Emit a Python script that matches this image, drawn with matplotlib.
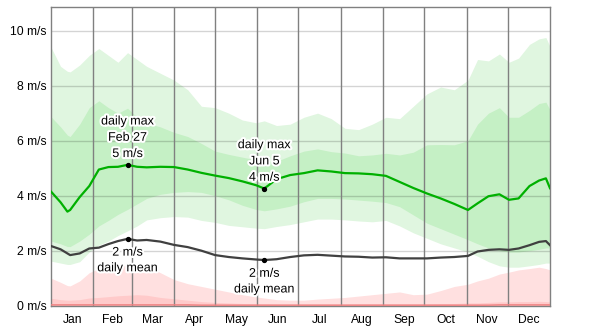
import matplotlib
matplotlib.use("Agg")
import matplotlib.pyplot as plt
import matplotlib.patheffects as pe
import numpy as np

plt.rcParams['font.family'] = ['Liberation Sans', 'DejaVu Sans']

# day of year (0 = Jan 1)
days = [0, 7, 12, 14, 21, 28, 35, 42, 49, 56, 63, 70, 80, 90, 100, 110, 120,
        130, 140, 150, 156, 165, 175, 185, 195, 205, 215, 225, 235, 245, 255,
        265, 275, 285, 295, 305, 312, 320, 328, 335, 342, 350, 357, 362, 365]

# daily max wind speed, percentiles (m/s)
max_p90 = [9.4, 8.7, 8.52, 8.5, 8.75, 9.1, 9.35, 9.1, 8.85, 9.2, 8.95, 8.7, 8.45,
           8.2, 7.85, 7.25, 7.2, 7.0, 6.75, 6.65, 6.72, 6.55, 6.6, 6.85, 7.0,
           6.8, 6.45, 6.4, 6.6, 6.85, 6.8, 7.25, 7.7, 7.95, 7.85, 8.2, 8.95,
           8.9, 9.15, 8.85, 9.0, 9.5, 9.7, 9.75, 9.42]
max_p75 = [6.87, 6.5, 6.2, 6.15, 6.6, 7.2, 7.45, 7.2, 7.0, 7.18, 6.85, 6.65,
           6.5, 6.3, 6.15, 5.9, 5.62, 5.5, 5.4, 5.3, 5.27, 5.25, 5.45, 5.62,
           5.7, 5.6, 5.55, 5.45, 5.48, 5.54, 5.48, 5.58, 5.85, 5.86, 5.85, 6.0,
           6.6, 7.0, 7.2, 6.85, 6.85, 7.1, 7.35, 7.4, 7.12]
max_median = [4.15, 3.76, 3.42, 3.48, 3.95, 4.35, 4.95, 5.04, 5.05, 5.12, 5.05,
              5.03, 5.05, 5.04, 4.95, 4.83, 4.73, 4.64, 4.52, 4.38, 4.26, 4.6,
              4.75, 4.82, 4.92, 4.88, 4.82, 4.81, 4.78, 4.72, 4.5, 4.28, 4.08,
              3.9, 3.7, 3.48, 3.72, 3.98, 4.05, 3.85, 3.9, 4.35, 4.55, 4.63, 4.27]
max_p25 = [2.35, 2.25, 2.15, 2.15, 2.35, 2.6, 2.9, 3.1, 3.32, 3.5, 3.7, 3.9,
           4.05, 4.12, 4.15, 4.12, 4.0, 3.85, 3.65, 3.5, 3.45, 3.52, 3.62, 3.78,
           3.9, 3.9, 3.88, 3.84, 3.8, 3.75, 3.6, 3.3, 3.0, 2.8, 2.6, 2.4, 2.25,
           2.1, 2.0, 1.95, 1.95, 2.0, 2.05, 2.1, 2.1]
max_p10 = [1.62, 1.55, 1.5, 1.5, 1.6, 1.95, 2.2, 2.35, 2.55, 2.72, 2.9, 3.12,
           3.2, 3.24, 3.22, 3.1, 3.03, 2.92, 2.87, 2.82, 2.8, 2.88, 2.95, 3.05,
           3.15, 3.15, 3.12, 3.08, 3.05, 3.1, 2.9, 2.65, 2.45, 2.25, 2.1, 1.95,
           1.8, 1.6, 1.45, 1.4, 1.4, 1.45, 1.5, 1.55, 1.55]

# daily mean wind speed (m/s)
mean_speed = [2.17, 2.05, 1.9, 1.84, 1.9, 2.08, 2.11, 2.24, 2.35, 2.43, 2.37,
              2.39, 2.33, 2.21, 2.13, 2.0, 1.84, 1.77, 1.72, 1.68, 1.66, 1.69,
              1.77, 1.83, 1.85, 1.82, 1.79, 1.78, 1.75, 1.76, 1.72, 1.72, 1.72,
              1.75, 1.77, 1.81, 1.97, 2.03, 2.05, 2.03, 2.08, 2.2, 2.32, 2.35, 2.2]

# daily min wind speed, percentiles (m/s)
min_p90 = [1.0, 0.85, 0.73, 0.72, 0.9, 1.2, 1.35, 1.45, 1.5, 1.45, 1.5, 1.45,
           1.2, 0.95, 0.8, 0.7, 0.6, 0.5, 0.4, 0.32, 0.28, 0.22, 0.2, 0.2, 0.24,
           0.27, 0.3, 0.35, 0.4, 0.45, 0.5, 0.4, 0.42, 0.55, 0.7, 0.78, 0.9,
           1.0, 1.15, 1.22, 1.3, 1.35, 1.4, 1.35, 1.3]
min_p75 = [0.27, 0.22, 0.2, 0.2, 0.22, 0.28, 0.3, 0.33, 0.36, 0.38, 0.4, 0.38,
           0.3, 0.25, 0.2, 0.15, 0.12, 0.1, 0.08, 0.07, 0.07, 0.06, 0.06, 0.06,
           0.06, 0.06, 0.06, 0.07, 0.07, 0.07, 0.07, 0.07, 0.07, 0.08, 0.08,
           0.1, 0.1, 0.12, 0.14, 0.14, 0.15, 0.15, 0.16, 0.15, 0.14]
min_median = [0.03, 0.03, 0.03, 0.03, 0.03, 0.03, 0.03, 0.03, 0.03, 0.03, 0.03,
              0.03, 0.03, 0.03, 0.03, 0.02, 0.02, 0.02, 0.02, 0.02, 0.02, 0.02,
              0.02, 0.02, 0.02, 0.02, 0.02, 0.02, 0.02, 0.02, 0.02, 0.02, 0.02,
              0.02, 0.02, 0.02, 0.02, 0.02, 0.03, 0.03, 0.03, 0.03, 0.03, 0.03, 0.03]

month_names = ['Jan', 'Feb', 'Mar', 'Apr', 'May', 'Jun',
               'Jul', 'Aug', 'Sep', 'Oct', 'Nov', 'Dec']
month_starts = [0, 31, 59, 90, 120, 151, 181, 212, 243, 273, 304, 334, 365]
y_ticks = [0, 2, 4, 6, 8, 10]

# callouts: (day, date label)
max_callouts = [(56, 'Feb 27'), (156, 'Jun 5')]
mean_callouts = [56, 156]

fig = plt.figure(figsize=(6, 3.29), dpi=100)
ax = fig.add_axes([51 / 600, 23.3 / 329, 499 / 600, 299 / 329])

ax.fill_between(days, max_p10, max_p90, color='#e0f6e0', lw=0, zorder=1)
ax.fill_between(days, max_p25, max_p75, color='#c5f0c5', lw=0, zorder=1.1)
ax.fill_between(days, 0, min_p90, color='#ffe0e0', lw=0, zorder=1)
ax.fill_between(days, 0, min_p75, color='#ffcaca', lw=0, zorder=1.1)

for v in y_ticks:
    ax.axhline(v, color='black', alpha=0.17, lw=1, zorder=1.5)
for m in month_starts[1:-1]:
    ax.axvline(m, color='#808080', lw=1, zorder=2)

ax.plot(days, min_median, color='#f08080', lw=1, zorder=3)
ax.plot(days, mean_speed, color='#404040', lw=1.6, zorder=3)
ax.plot(days, max_median, color='#00b000', lw=1.6, zorder=3)

halo = [pe.withStroke(linewidth=3, foreground='white')]
for d, lbl in max_callouts:
    v = max_median[days.index(d)]
    ax.plot(d, v, 'o', color='black', ms=2.8, zorder=4)
    lines = ['daily max', lbl, f'{round(v):.0f} m/s']
    for i, t in enumerate(lines):
        ax.annotate(t, (d, v), xytext=(0, 31.2 - 11.7 * i), textcoords='offset points',
                    ha='center', va='center', fontsize=9, zorder=5, path_effects=halo)
for d in mean_callouts:
    v = mean_speed[days.index(d)]
    ax.plot(d, v, 'o', color='black', ms=2.8, zorder=4)
    for i, t in enumerate([f'{round(v):.0f} m/s', 'daily mean']):
        ax.annotate(t, (d, v), xytext=(0, -9.9 - 11.3 * i), textcoords='offset points',
                    ha='center', va='center', fontsize=9, zorder=5, path_effects=halo)

ax.set_xlim(0, 365)
ax.set_ylim(0, 10.87)
ax.set_yticks(y_ticks)
ax.set_yticklabels([f'{v} m/s' for v in y_ticks])
centers = [(a + b) / 2 for a, b in zip(month_starts[:-1], month_starts[1:])]
ax.set_xticks(centers)
ax.set_xticklabels(month_names)
ax.tick_params(length=0, labelsize=8.7, colors='black')
ax.tick_params(axis='x', pad=6)
ax.tick_params(axis='y', pad=3)
for s in ax.spines.values():
    s.set_color('#808080')
    s.set_linewidth(1)

fig.savefig('out.png', dpi=100)
